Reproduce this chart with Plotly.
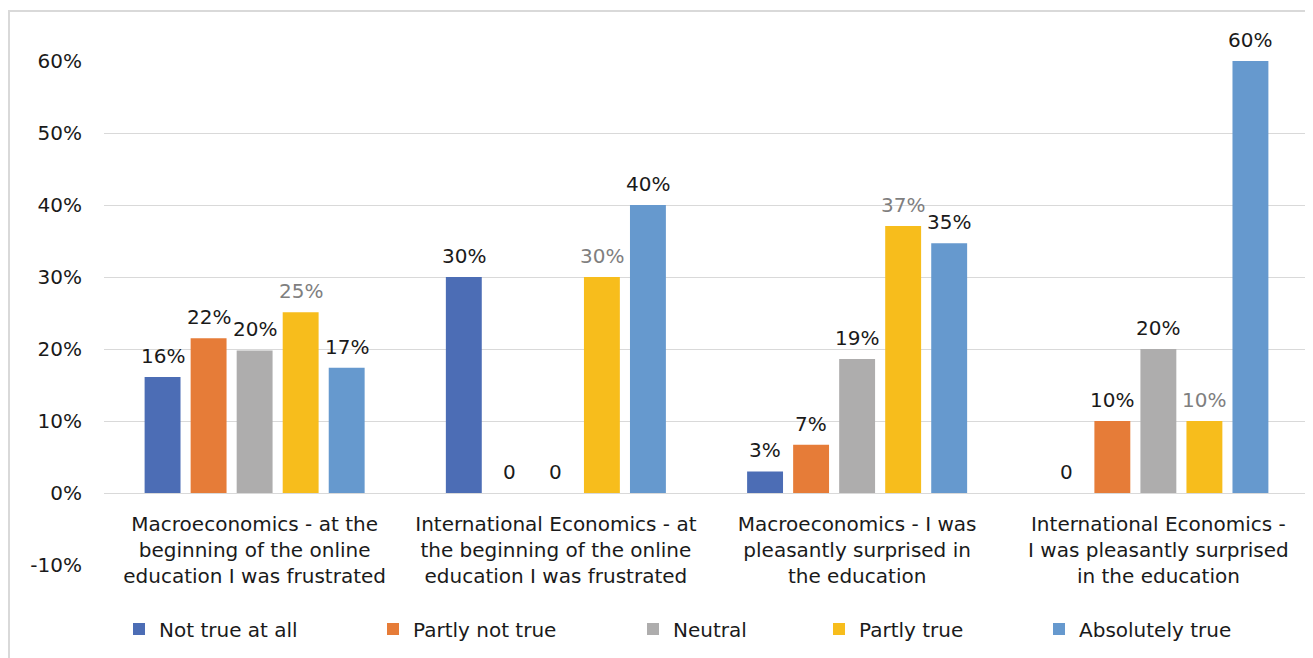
import plotly.graph_objects as go

categories = [
    "Macroeconomics - at the<br>beginning of the online<br>education I was frustrated",
    "International Economics - at<br>the beginning of the online<br>education I was frustrated",
    "Macroeconomics - I was<br>pleasantly surprised in<br>the education",
    "International Economics -<br>I was pleasantly surprised<br>in the education",
]
series_names = ["Not true at all", "Partly not true", "Neutral", "Partly true", "Absolutely true"]
not_true_at_all = [0.161, 0.30, 0.030, 0.0]
partly_not_true = [0.215, 0.0, 0.067, 0.10]
neutral = [0.198, 0.0, 0.186, 0.20]
partly_true = [0.251, 0.30, 0.371, 0.10]
absolutely_true = [0.174, 0.40, 0.347, 0.60]
series_values = [not_true_at_all, partly_not_true, neutral, partly_true, absolutely_true]
y_ticks = [-0.1, 0.0, 0.1, 0.2, 0.3, 0.4, 0.5, 0.6]
y_tick_labels = ["-10%", "0%", "10%", "20%", "30%", "40%", "50%", "60%"]

colors = ["#4C6DB5", "#E67C38", "#AEADAD", "#F7BD1C", "#6699CE"]
label_colors = ["#1a1a1a", "#1a1a1a", "#1a1a1a", "#7f7f7f", "#1a1a1a"]
FONT = "DejaVu Sans, Verdana, sans-serif"

# page has an 8px body margin; figure is sized/offset to compensate
OFF = 8
W, H = 1313 - OFF, 658 - OFF
L, R, T, B = 104 - OFF, 4, 61 - OFF, 93
PW = W - L - R
PH = H - T - B
BARGAP = 0.236
BARGROUPGAP = 0.22

legend_screen_px = [119, 373, 633, 819, 1039]
legend_ids = ["legend", "legend2", "legend3", "legend4", "legend5"]

fig = go.Figure()
n_series = len(series_names)
slot_px = (PW / len(categories)) * (1 - BARGAP) / n_series
annotations = []
for i, (name, vals, col, lc, lid) in enumerate(zip(series_names, series_values, colors, label_colors, legend_ids)):
    fig.add_trace(go.Bar(
        name=name, x=categories, y=vals,
        marker=dict(color=col, line=dict(width=0)),
        hoverinfo="skip", legend=lid,
    ))
    for cat, v in zip(categories, vals):
        annotations.append(dict(
            x=cat, y=v, xref="x", yref="y", text=f"{round(v * 100)}%" if v else "0",
            showarrow=False, yanchor="bottom", xanchor="center",
            xshift=(i - (n_series - 1) / 2) * slot_px, yshift=7,
            font=dict(size=20, color=lc, family=FONT),
        ))

legends = {}
for lid, px in zip(legend_ids, legend_screen_px):
    legends[lid] = dict(orientation="h", x=(px - OFF - L) / PW, xanchor="left", y=-0.127, yanchor="middle",
                        font=dict(size=20, color="#1a1a1a", family=FONT), itemclick=False,
                        bgcolor="rgba(0,0,0,0)")

fig.update_layout(
    width=W, height=H,
    margin=dict(l=L, r=R, t=T, b=B, autoexpand=False),
    paper_bgcolor="white", plot_bgcolor="white",
    font=dict(family=FONT, size=20, color="#1a1a1a"),
    barmode="group", bargap=BARGAP, bargroupgap=BARGROUPGAP,
    showlegend=True,
    annotations=annotations,
    shapes=[dict(type="rect", xref="paper", yref="paper",
                 x0=(9 - OFF - L) / PW, x1=1.02, y0=1 + (T - (11 - OFF)) / PH, y1=-0.3,
                 line=dict(color="#d9d9d9", width=2), fillcolor="rgba(0,0,0,0)", layer="below")],
    **legends,
)
fig.update_yaxes(range=[-0.1, 0.6], tickvals=y_ticks, ticktext=y_tick_labels, showgrid=True,
                 gridcolor="#d9d9d9", gridwidth=1, zeroline=True, zerolinecolor="#d9d9d9",
                 zerolinewidth=1, ticks="", ticklabelstandoff=21, showline=False, automargin=False,
                 tickfont=dict(size=20, color="#1a1a1a"))
fig.update_xaxes(anchor="free", position=1 / 7, showline=False, ticks="", showgrid=False,
                 ticklabelstandoff=17, automargin=False, tickfont=dict(size=20, color="#1a1a1a"))

fig.write_html("out.html")
